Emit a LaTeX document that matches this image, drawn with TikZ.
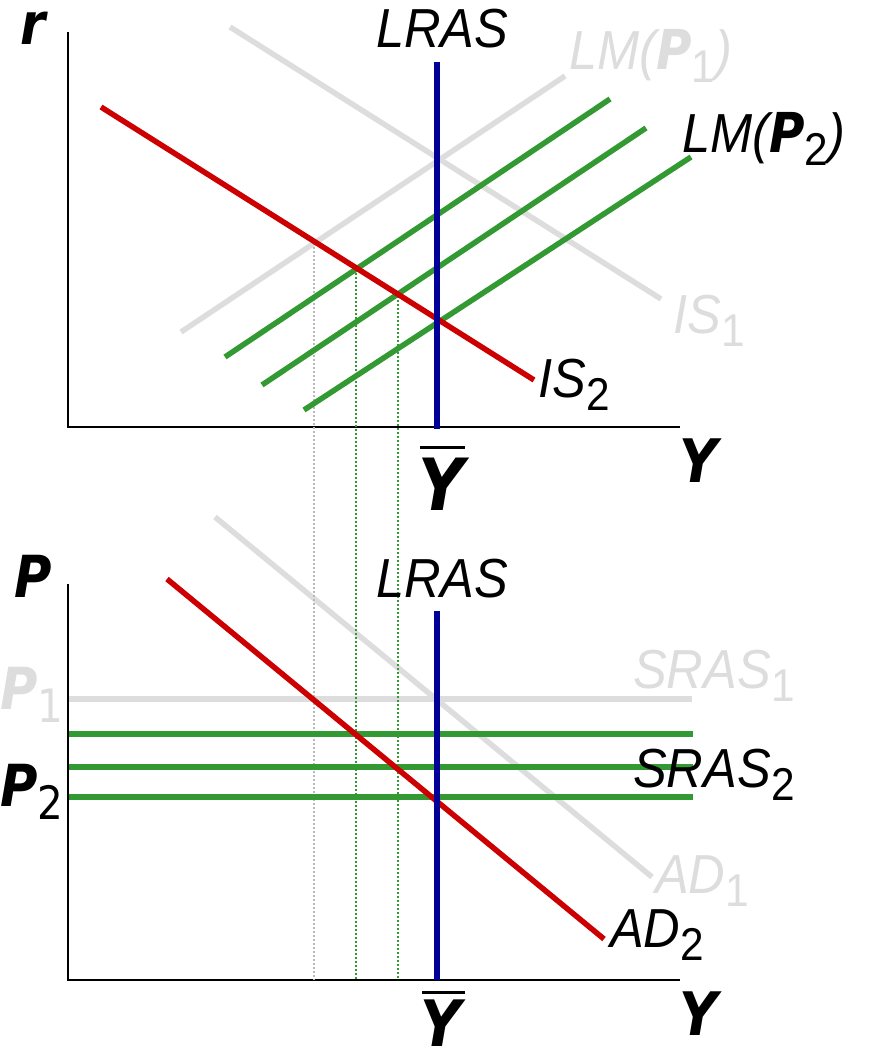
\documentclass[tikz,border=0pt]{standalone}
\usepackage{fontspec}
\setmainfont{Liberation Sans}[FakeStretch=0.92]
\newfontfamily\varfont{DejaVu Sans}[FakeStretch=0.88]
\usepackage{xcolor}
\definecolor{isred}{RGB}{204,0,0}
\definecolor{lmgreen}{RGB}{51,153,51}
\definecolor{lrasblue}{RGB}{0,0,153}
\definecolor{oldgray}{RGB}{221,221,221}
\definecolor{dotgray}{RGB}{185,185,185}
\newcommand{\lblsize}{\fontsize{55}{60}\selectfont}
\newcommand{\bvar}[1]{{\varfont\bfseries\itshape #1}}
\newcommand{\subd}[1]{\raisebox{-13pt}{\fontsize{46}{46}\selectfont\upshape\mdseries #1}}

\begin{document}
\begin{tikzpicture}[x=1pt,y=-1pt,
  curve/.style={line width=5.5pt},
  axisline/.style={line width=2.5pt},
  guide/.style={line width=1.8pt,dash pattern=on 2pt off 2pt},
  lbl/.style={anchor=base west,inner sep=0pt,font=\lblsize\itshape},
  axlbl/.style={anchor=base west,inner sep=0pt,font=\fontsize{58}{60}\selectfont\varfont\bfseries\itshape}]
\useasboundingbox (0,0) rectangle (879,1056);

\draw[axisline] (68,32) -- (68,427) -- (680,427);
\draw[axisline] (68,584) -- (68,980) -- (680,980);

\draw[curve,oldgray] (230,27) -- (661,299);
\draw[curve,oldgray] (181,332) -- (565,76);
\draw[curve,oldgray] (215,517) -- (652,877);
\draw[curve,oldgray] (69,699) -- (692,699);

\draw[guide,dotgray] (314,243) -- (314,980);
\draw[guide,lmgreen] (356,269) -- (356,980);
\draw[guide,lmgreen] (398,296) -- (398,980);

\draw[curve,lmgreen] (225,357) -- (610,99);
\draw[curve,lmgreen] (262,385) -- (646,128);
\draw[curve,lmgreen] (304,410) -- (691,157);
\draw[curve,lmgreen] (69,734) -- (693,734);
\draw[curve,lmgreen] (69,767) -- (693,767);
\draw[curve,lmgreen] (69,797) -- (693,797);

\draw[curve,isred] (101,107) -- (534,380);
\draw[curve,isred] (167,579) -- (604,939);

\draw[curve,lrasblue] (437,62) -- (437,429);
\draw[curve,lrasblue] (437,611) -- (437,980);

\node[axlbl] (rlabel) at (20,45) {r};
\node[lbl] (lrastop) at (376,48) {LRAS};
\node[lbl,oldgray] (lmone) at (569,70) {LM(\bvar{P}\subd{1})};
\node[lbl] (lmtwo) at (682,153) {LM(\bvar{P}\subd{2})};
\node[lbl,oldgray] (isone) at (673,333) {IS\subd{1}};
\node[lbl] (istwo) at (538,397) {IS\subd{2}};
\node[axlbl,font=\fontsize{60}{60}\selectfont\varfont\bfseries\itshape] (ytop) at (679,482) {Y};
\node[axlbl,font=\fontsize{72}{72}\selectfont\varfont\bfseries\itshape] (ybartop) at (418,510) {\rlap{\hspace{2pt}\raisebox{61pt}{\rule{45pt}{3.5pt}}}Y};

\node[axlbl] (plabel) at (14,597) {P};
\node[lbl] (lrasbot) at (376,597) {LRAS};
\node[lbl,oldgray] (srasone) at (633,688) {SRAS\subd{1}};
\node[lbl] (srastwo) at (633,787) {SRAS\subd{2}};
\node[axlbl,oldgray] (pone) at (0,709) {P\subd{1}};
\node[axlbl] (ptwo) at (0,806) {P\subd{2}};
\node[lbl,oldgray] (adone) at (655,893) {AD\subd{1}};
\node[lbl] (adtwo) at (610,947) {AD\subd{2}};
\node[axlbl,font=\fontsize{60}{60}\selectfont\varfont\bfseries\itshape] (ybot) at (679,1035) {Y};
\node[axlbl,font=\fontsize{64}{64}\selectfont\varfont\bfseries\itshape] (ybarbot) at (420,1046) {\rlap{\hspace{2pt}\raisebox{52pt}{\rule{43pt}{3.5pt}}}Y};
\end{tikzpicture}
\end{document}
